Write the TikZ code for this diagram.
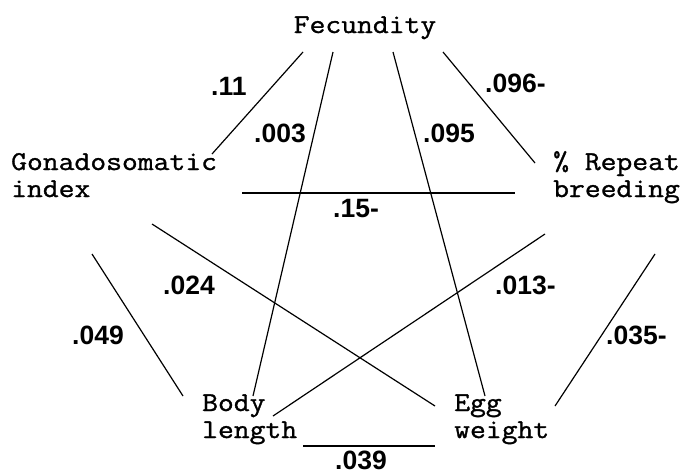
\documentclass[tikz,border=0pt]{standalone}
\usepackage{fontspec}
\setmainfont{Liberation Sans}
\newfontfamily\varfont[FakeStretch=1.13, FakeBold=1.2]{Latin Modern Mono}
\newfontfamily\coeffont{Liberation Sans}
\begin{document}
\begin{tikzpicture}[x=1pt, y=-1pt,
  varname/.style={inner sep=0pt, align=left,
    font=\varfont\fontsize{27.2}{27}\selectfont},
  coef/.style={inner sep=0pt, anchor=base west,
    font=\coeffont\bfseries\fontsize{26.5}{28}\selectfont},
  link/.style={line width=1.2pt, black}]
  \useasboundingbox (0,0) rectangle (687,474);

  % trait names
  \node[varname, anchor=base] (fec) at (365,33) {Fecundity};
  \node[varname, anchor=base west] (gsi) at (11,197) {Gonadosomatic\\index};
  \node[varname, anchor=base west] (rep) at (553,197) {\% Repeat\\breeding};
  \node[varname, anchor=base west] (body) at (202,438) {Body\\length};
  \node[varname, anchor=base west] (egg) at (454,438) {Egg\\weight};

  % connectors between traits
  \draw[link] ([shift={(-62,19)}]fec.base) -- ([shift={(201,-43)}]gsi.base west);
  \draw[link] ([shift={(-32,19)}]fec.base) -- ([shift={(51,-42)}]body.base west);
  \draw[link] ([shift={(28,19)}]fec.base) -- ([shift={(31,-42)}]egg.base west);
  \draw[link] ([shift={(78,19)}]fec.base) -- ([shift={(-18,-34)}]rep.base west);
  \draw[link] ([shift={(231,-4)}]gsi.base west) -- ([shift={(-38,-4)}]rep.base west);
  \draw[link] ([shift={(141,27)}]gsi.base west) -- ([shift={(-19,-32)}]egg.base west);
  \draw[link] ([shift={(81,57)}]gsi.base west) -- ([shift={(-19,-42)}]body.base west);
  \draw[link] ([shift={(-8,37)}]rep.base west) -- ([shift={(71,-22)}]body.base west);
  \draw[link] ([shift={(102,57)}]rep.base west) -- ([shift={(101,-32)}]egg.base west);
  \draw[link] ([shift={(101,8)}]body.base west) -- ([shift={(-19,8)}]egg.base west);

  % coefficients
  \node[coef] (c11)  at (211,95)  {.11};
  \node[coef] (c003) at (254,142) {.003};
  \node[coef] (c095) at (423,142) {.095};
  \node[coef] (c096) at (485,92)  {.096-};
  \node[coef] (c15)  at (333,217) {.15-};
  \node[coef] (c024) at (163,294) {.024};
  \node[coef] (c049) at (72,344)  {.049};
  \node[coef] (c013) at (495,294) {.013-};
  \node[coef] (c035) at (606,344) {.035-};
  \node[coef, text depth=0pt] (c039) at (335,469.5) {.039};
\end{tikzpicture}
\end{document}
